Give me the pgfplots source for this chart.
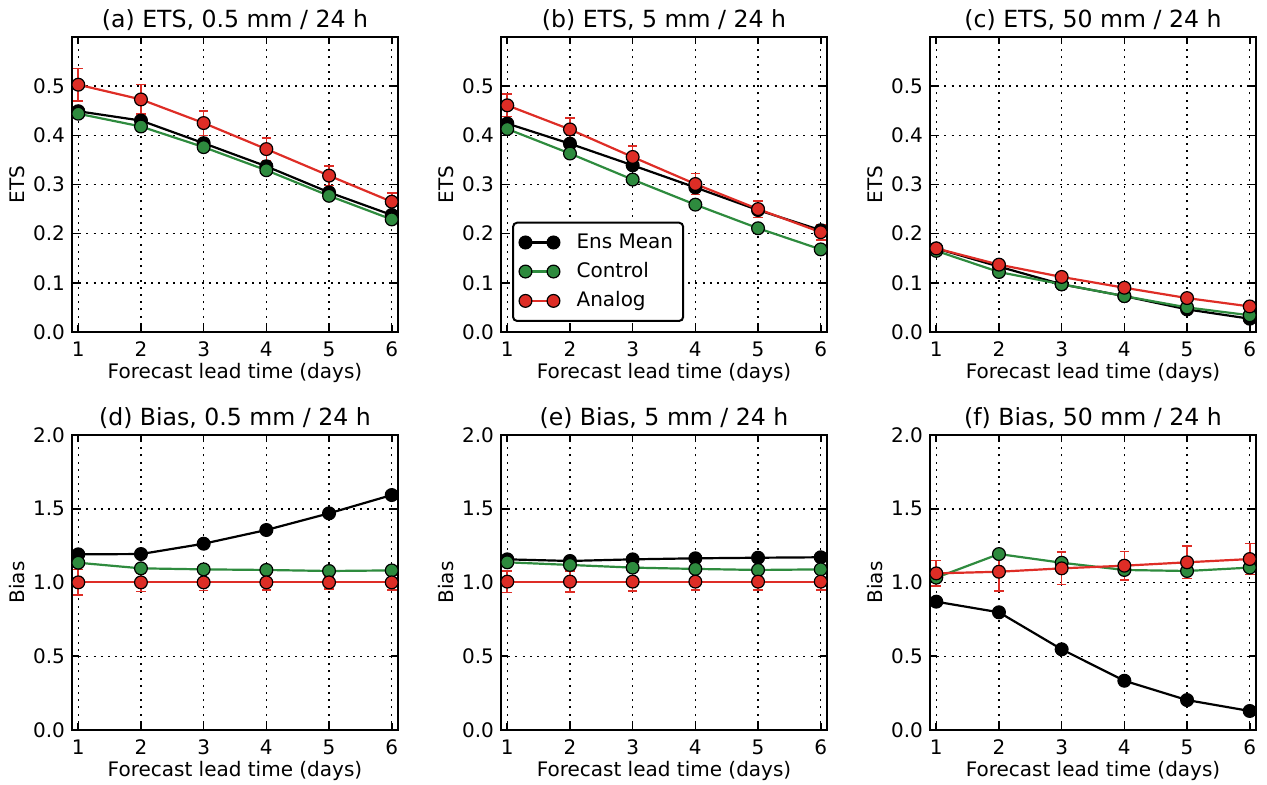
\documentclass[border=0pt]{standalone}
\usepackage{fontspec}
\setmainfont{DejaVu Sans}
\usepackage{pgfplots}
\pgfplotsset{compat=1.18}

\definecolor{ared}{RGB}{222,45,38}
\definecolor{agreen}{RGB}{46,139,62}

\pgfplotsset{
  panel/.style={
    width=163bp, height=147.5bp, scale only axis,
    xmin=0.9, xmax=6.1, xtick={1,2,3,4,5,6},
    grid=major,
    grid style={black, line width=0.75bp, dash pattern=on 1bp off 2.6bp},
    tick align=inside, major tick length=3.5bp,
    axis line style={line width=1bp},
    tick style={black, line width=0.8bp},
    /pgf/number format/assume math mode=true,
    tick label style={font=\fontsize{10bp}{12bp}\selectfont},
    yticklabel style={/pgf/number format/.cd, fixed, fixed zerofill, precision=1},
    xticklabel style={yshift=-1.5bp},
    label style={font=\fontsize{10bp}{12bp}\selectfont},
    xlabel={Forecast lead time (days)},
    xlabel style={at={(axis description cs:0.5,-0.139)}, anchor=center},
    ylabel style={at={(axis description cs:-0.169,0.5)}, anchor=center},
    title style={at={(axis description cs:0.5,1.017)}, anchor=center,
      font=\fontsize{11.8bp}{14bp}\selectfont},
  },
  ets/.style={panel, ymin=0, ymax=0.6, ytick={0,0.1,0.2,0.3,0.4,0.5}, ylabel={ETS}},
  bias/.style={panel, ymin=0, ymax=2, ytick={0,0.5,1,1.5,2}, ylabel={Bias}},
  ens/.style={black, line width=1.1bp, mark=*, mark size=3.2bp,
    mark options={fill=black, draw=black, line width=0.6bp}},
  ctl/.style={agreen, line width=1.1bp, mark=*, mark size=3.2bp,
    mark options={fill=agreen, draw=black, line width=0.6bp}},
  anabase/.style={ared, line width=1.1bp, mark=*, mark size=3.2bp,
    mark options={fill=ared, draw=black, line width=0.6bp}},
  ana/.style={anabase,
    error bars/.cd, y dir=both, y explicit, error mark=-,
    error bar style={ared, line width=0.8bp},
    error mark options={rotate=90, ared, mark size=2.4bp, line width=0.8bp}},
}

\begin{document}
\begin{tikzpicture}
\useasboundingbox (0,0) rectangle (633.5bp,-392.5bp);
\clip (0,0) rectangle (629.5bp,-392.5bp);

% (a)
\begin{axis}[ets, at={(36bp,-18.5bp)}, anchor=north west,
  title={(a) ETS, 0.5 mm / 24 h}]
\addplot[ens] coordinates {(1,0.449) (2,0.430) (3,0.384) (4,0.337) (5,0.284) (6,0.238)};
\addplot[ctl] coordinates {(1,0.444) (2,0.418) (3,0.376) (4,0.329) (5,0.277) (6,0.229)};
\addplot[ana] coordinates {(1,0.503) +- (0,0.033) (2,0.473) +- (0,0.030) (3,0.425) +- (0,0.025)
  (4,0.372) +- (0,0.023) (5,0.318) +- (0,0.020) (6,0.265) +- (0,0.018)};
\end{axis}

% (b)
\begin{axis}[ets, at={(250.5bp,-18.5bp)}, anchor=north west,
  title={(b) ETS, 5 mm / 24 h},
  legend style={at={(axis description cs:0.034,0.034)}, anchor=south west,
    draw=black, line width=1bp, rounded corners=2bp,
    font=\fontsize{10bp}{12bp}\selectfont, row sep=1.6bp,
    inner xsep=3bp, inner ysep=3.5bp},
  legend cell align=left,
  legend image code/.code={\draw[#1] plot coordinates {(0bp,0bp) (14bp,0bp)};
    \path (-1bp,0bp) (23bp,0bp);}]
\addlegendimage{ens}
\addlegendentry{Ens Mean}
\addlegendimage{ctl}
\addlegendentry{Control}
\addlegendimage{anabase}
\addlegendentry{Analog}
\addplot[forget plot, ens] coordinates {(1,0.424) (2,0.383) (3,0.339) (4,0.294) (5,0.248) (6,0.207)};
\addplot[forget plot, ctl] coordinates {(1,0.413) (2,0.363) (3,0.310) (4,0.259) (5,0.211) (6,0.168)};
\addplot[forget plot, ana] coordinates {(1,0.461) +- (0,0.023) (2,0.412) +- (0,0.023) (3,0.356) +- (0,0.022)
  (4,0.301) +- (0,0.021) (5,0.250) +- (0,0.017) (6,0.203) +- (0,0.016)};
\end{axis}

% (c)
\begin{axis}[ets, at={(465bp,-18.5bp)}, anchor=north west,
  title={(c) ETS, 50 mm / 24 h}]
\addplot[ens] coordinates {(1,0.170) (2,0.133) (3,0.097) (4,0.073) (5,0.046) (6,0.027)};
\addplot[ctl] coordinates {(1,0.165) (2,0.122) (3,0.097) (4,0.073) (5,0.050) (6,0.034)};
\addplot[ana] coordinates {(1,0.170) +- (0,0.008) (2,0.137) +- (0,0.007) (3,0.112) +- (0,0.007)
  (4,0.090) +- (0,0.006) (5,0.069) +- (0,0.006) (6,0.052) +- (0,0.005)};
\end{axis}

% (d)
\begin{axis}[bias, at={(36bp,-217.5bp)}, anchor=north west,
  title={(d) Bias, 0.5 mm / 24 h}]
\addplot[ens] coordinates {(1,1.191) (2,1.193) (3,1.263) (4,1.356) (5,1.469) (6,1.593)};
\addplot[ctl] coordinates {(1,1.134) (2,1.096) (3,1.089) (4,1.085) (5,1.078) (6,1.082)};
\addplot[ana] coordinates {(1,1.001) +- (0,0.086) (2,1.001) +- (0,0.061) (3,1.001) +- (0,0.056)
  (4,1.001) +- (0,0.050) (5,1.001) +- (0,0.045) (6,1.001) +- (0,0.050)};
\end{axis}

% (e)
\begin{axis}[bias, at={(250.5bp,-217.5bp)}, anchor=north west,
  title={(e) Bias, 5 mm / 24 h}]
\addplot[ens] coordinates {(1,1.157) (2,1.146) (3,1.157) (4,1.164) (5,1.168) (6,1.171)};
\addplot[ctl] coordinates {(1,1.137) (2,1.119) (3,1.101) (4,1.092) (5,1.085) (6,1.089)};
\addplot[ana] coordinates {(1,1.006) +- (0,0.073) (2,1.006) +- (0,0.070) (3,1.006) +- (0,0.065)
  (4,1.006) +- (0,0.056) (5,1.006) +- (0,0.055) (6,1.006) +- (0,0.055)};
\end{axis}

% (f)
\begin{axis}[bias, at={(465bp,-217.5bp)}, anchor=north west,
  title={(f) Bias, 50 mm / 24 h}]
\addplot[ens] coordinates {(1,0.870) (2,0.798) (3,0.547) (4,0.334) (5,0.203) (6,0.129)};
\addplot[ctl] coordinates {(1,1.033) (2,1.193) (3,1.134) (4,1.085) (5,1.078) (6,1.101)};
\addplot[ana] coordinates {(1,1.062) +- (0,0.087) (2,1.073) +- (0,0.130) (3,1.096) +- (0,0.110)
  (4,1.114) +- (0,0.095) (5,1.137) +- (0,0.110) (6,1.159) +- (0,0.105)};
\end{axis}
\end{tikzpicture}
\end{document}
